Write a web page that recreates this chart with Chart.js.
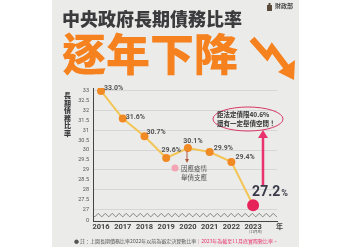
<!DOCTYPE html>
<html lang="zh-Hant">
<head>
    <meta charset="UTF-8">
    <title>中央政府長期債務比率</title>
    <script src="https://cdn.jsdelivr.net/npm/chart.js"></script>
    <style>
        body {
            margin: 0;
            padding: 0;
            background-color: #fff;
            font-family: "Noto Sans CJK TC", sans-serif;
        }
        .stage {
            position: relative;
            width: 350px;
            height: 250px;
            overflow: hidden;
        }
        .panel {
            position: absolute;
            left: 52px;
            top: 0;
            width: 247px;
            height: 247px;
            background-color: #ebebea;
        }
        canvas {
            position: absolute;
            left: 0;
            top: 0;
        }
        .txt {
            position: absolute;
            white-space: nowrap;
            line-height: 1;
        }
        .title { left: 62px; top: 9px; font-size: 18px; font-weight: 900; color: #3b3b3d; }
        .big { left: 62px; top: 30px; font-size: 44px; font-weight: 900; color: #f5821f; }
        .agency { left: 275px; top: 3px; font-size: 6px; color: #444; font-weight: 700; }
        .ytitle { left: 64px; top: 92px; font-size: 7px; font-weight: 900; color: #3b3b3d; line-height: 7.6px; text-align: center; }
        .note1 { left: 217px; top: 110px; font-size: 6.5px; font-weight: 700; color: #333; line-height: 9px; }
        .covid { left: 181px; top: 164px; font-size: 6.5px; color: #555; line-height: 9px; }
        .nian { left: 276px; top: 223px; font-size: 7px; font-weight: 700; color: #444; }
        .sub { left: 249px; top: 230px; font-size: 3.5px; color: #555; }
        .foot { left: 74px; top: 238px; font-size: 5px; color: #555; }
        .foot span { color: #e8336d; }
    </style>
</head>
<body>
<div class="stage">
    <div class="panel"></div>
    <canvas id="chart" width="350" height="250"></canvas>

    <div class="txt agency">財政部</div>
    <svg style="position:absolute;left:266px;top:3px" width="7" height="8">
        <rect x="1" y="2" width="5" height="6" fill="#5a4a3a"/>
        <rect x="2.5" y="0" width="2" height="2" fill="#5a4a3a"/>
    </svg>
    <div class="txt title">中央政府長期債務比率</div>
    <div class="txt big">逐年下降</div>
    <svg style="position:absolute;left:245px;top:31px" width="55" height="52">
        <polyline points="7,8 22,25 27,17 42,37" fill="none" stroke="#f5821f" stroke-width="6.5" stroke-linejoin="miter"/>
        <polygon points="33,41 50,29 49,49" fill="#f5821f"/>
    </svg>

    <div class="txt ytitle">長<br>期<br>債<br>務<br>比<br>率</div>

    <svg style="position:absolute;left:210px;top:104px" width="78" height="32">
        <ellipse cx="38" cy="15" rx="35" ry="12" fill="none" stroke="#d63a64" stroke-width="1"/>
    </svg>
    <div class="txt note1">距法定債限40.6%<br>還有一定舉債空間！</div>

    <svg style="position:absolute;left:170px;top:146px" width="60" height="30">
        <line x1="17" y1="5" x2="17" y2="14" stroke="#b0583c" stroke-width="1"/>
        <polygon points="15,13 19,13 17,17" fill="#b0583c"/>
        <circle cx="5" cy="22" r="3.5" fill="#f3a5b3"/>
    </svg>
    <div class="txt covid">因應疫情<br>舉債支應</div>

    <svg style="position:absolute;left:256px;top:128px" width="14" height="60">
        <line x1="7" y1="8" x2="7" y2="57" stroke="#e8336d" stroke-width="2.5"/>
        <polygon points="2,10 12,10 7,2" fill="#e8336d"/>
    </svg>

    <div class="txt nian">年</div>
    <div class="txt sub">(11月底)</div>
    <div class="txt foot">● 註：上圖長期債務比率2022年以前為審定決算數比率<span>｜2023年為截至11月底實際數比率。</span></div>
</div>

<script>
    // values
    const years = [2016, 2017, 2018, 2019, 2020, 2021, 2022, 2023];
    const ratios = [33.0, 31.6, 30.7, 29.6, 30.1, 29.9, 29.4, 27.2];
    const ratioLabels = ['33.0%', '31.6%', '30.7%', '29.6%', '30.1%', '29.9%', '29.4%', '27.2%'];
    const yTicks = [26.4, 27, 27.5, 28, 28.5, 29, 29.5, 30, 30.5, 31, 31.5, 32, 32.5, 33];
    const yBreakValue = 26.4; // shown as "0" below the axis break

    // label placement (dx, dy, align) relative to each point
    const labelPos = [
        [3, -3, 'left'], [3, -1, 'left'], [2, -4, 'left'], [5, -8, 'center'],
        [5, -7, 'center'], [4, -4, 'left'], [4, -5, 'left'], [-1, -13, 'left']
    ];

    const pointLabels = {
        id: 'pointLabels',
        afterDatasetsDraw(chart) {
            const ctx = chart.ctx;
            const meta = chart.getDatasetMeta(0);
            ctx.save();
            ctx.textBaseline = 'middle';
            meta.data.forEach((pt, i) => {
                const [dx, dy, align] = labelPos[i];
                ctx.textAlign = align;
                if (i === ratioLabels.length - 1) {
                    const num = ratioLabels[i].replace('%', '');
                    ctx.fillStyle = '#3a3a48';
                    ctx.font = 'bold 14px Roboto, sans-serif';
                    ctx.fillText(num, pt.x + dx, pt.y + dy);
                    const w = ctx.measureText(num).width;
                    ctx.font = 'bold 9px Roboto, sans-serif';
                    ctx.fillText('%', pt.x + dx + w + 1, pt.y + dy + 2);
                } else {
                    ctx.fillStyle = '#555';
                    ctx.font = 'bold 7px Roboto, sans-serif';
                    ctx.fillText(ratioLabels[i], pt.x + dx, pt.y + dy);
                }
            });
            ctx.restore();
        }
    };

    // wavy axis-break line
    const axisBreak = {
        id: 'axisBreak',
        beforeDatasetsDraw(chart) {
            const ctx = chart.ctx;
            const area = chart.chartArea;
            const y = chart.scales.y.getPixelForValue(26.7);
            ctx.save();
            ctx.strokeStyle = '#666';
            ctx.lineWidth = 0.8;
            ctx.beginPath();
            for (let x = area.left; x <= area.right; x += 0.5) {
                const yy = y + 1.5 * Math.sin((x - area.left) / 7 * Math.PI * 2);
                if (x === area.left) ctx.moveTo(x, yy); else ctx.lineTo(x, yy);
            }
            ctx.stroke();
            ctx.restore();
        }
    };

    const lastIdx = ratios.length - 1;

    new Chart(document.getElementById('chart'), {
        type: 'line',
        data: {
            datasets: [{
                data: years.map((yr, i) => ({ x: yr, y: ratios[i] })),
                borderColor: '#f3c556',
                borderWidth: 2,
                tension: 0,
                pointBackgroundColor: ctx => ctx.dataIndex === lastIdx ? '#e6245a' : '#f08a24',
                pointBorderColor: ctx => ctx.dataIndex === lastIdx ? '#e6245a' : '#f08a24',
                pointRadius: ctx => ctx.dataIndex === lastIdx ? 5 : 3
            }]
        },
        options: {
            responsive: false,
            animation: false,
            layout: { padding: { left: 0, right: 73, top: 88, bottom: 0 } },
            plugins: {
                legend: { display: false },
                tooltip: { enabled: false }
            },
            scales: {
                x: {
                    type: 'linear',
                    min: 2015.63,
                    max: 2024.1,
                    afterFit: s => { s.height = 29; },
                    afterBuildTicks: s => { s.ticks = years.map(v => ({ value: v })); },
                    grid: { display: false, drawTicks: false },
                    border: { color: '#444', width: 1 },
                    ticks: {
                        padding: 2,
                        color: '#444',
                        font: { size: 7.5, weight: 'bold', family: 'Roboto' },
                        callback: v => String(v)
                    }
                },
                y: {
                    min: yBreakValue,
                    max: 33.15,
                    afterFit: s => { s.width = 93; },
                    afterBuildTicks: s => { s.ticks = yTicks.map(v => ({ value: v })); },
                    grid: {
                        drawTicks: false,
                        color: ctx => (ctx.tick && ctx.tick.value % 1 === 0) ? '#d6d6d6' : 'rgba(0,0,0,0)'
                    },
                    border: { color: '#444', width: 1 },
                    ticks: {
                        padding: 4,
                        color: '#555',
                        font: { size: 5.5, family: 'Roboto' },
                        callback: v => v === yBreakValue ? '0' : String(v)
                    }
                }
            }
        },
        plugins: [axisBreak, pointLabels]
    });
</script>
</body>
</html>
